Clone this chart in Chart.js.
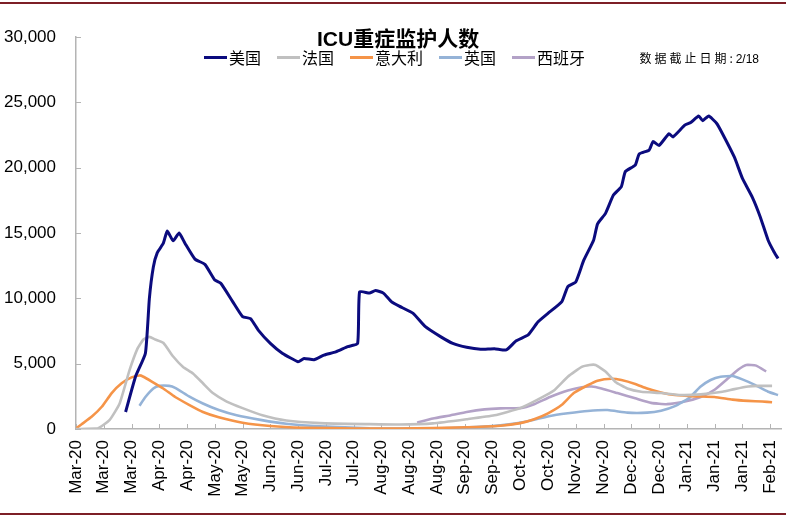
<!DOCTYPE html>
<html lang="zh-CN">
<head>
<meta charset="utf-8">
<title>ICU重症监护人数</title>
<script src="https://cdn.jsdelivr.net/npm/chart.js@4.4.1/dist/chart.umd.min.js"></script>
<style>
  html, body { margin: 0; padding: 0; background: #fff; }
  #wrap { position: relative; width: 786px; height: 517px; overflow: hidden; }
  #wrap canvas { position: absolute; left: 0; top: 0; }
  .rule { position: absolute; left: 0; width: 786px; height: 2px; background: #7d1f26; }
  #chart-title {
    position: absolute; left: 317px; top: 22px; line-height: 21px; white-space: nowrap;
    font: bold 21px "Liberation Sans", "Noto Sans CJK SC", sans-serif; color: #000;
  }
  #legend {
    position: absolute; left: 204px; top: 49px; display: flex; align-items: center;
    font: 16px/16px "Noto Sans CJK SC", sans-serif; color: #000; white-space: nowrap;
  }
  #legend .item { display: flex; align-items: center; margin-right: 16px; }
  #legend .swatch { display: inline-block; width: 23px; height: 3px; margin-right: 2px; }
  #note {
    position: absolute; right: 27px; top: 49px; line-height: 16px; white-space: nowrap;
    font: 12px "Noto Sans CJK SC", sans-serif; color: #000;
  }
  #note .cjk { letter-spacing: 3px; }
  #note .num { font-family: "Liberation Sans", sans-serif; }
</style>
</head>
<body>
<div id="wrap">
  <div class="rule" style="top:2px"></div>
  <canvas id="icuChart"></canvas>
  <div id="chart-title">ICU重症监护人数</div>
  <div id="legend"></div>
  <div id="note"><span class="cjk">数据截止日期</span>: <span class="num">2/18</span></div>
  <div class="rule" style="top:513px"></div>
</div>
<script>
// --- DATA ---
// x = days since 2020-03-01, labelled every 14 days
const tickStepDays = 14;
const xTickLabels = ['Mar-20', 'Mar-20', 'Mar-20', 'Apr-20', 'Apr-20', 'May-20', 'May-20', 'Jun-20', 'Jun-20',
    'Jul-20', 'Jul-20', 'Aug-20', 'Aug-20', 'Aug-20', 'Sep-20', 'Sep-20', 'Oct-20', 'Oct-20', 'Nov-20', 'Nov-20',
    'Dec-20', 'Dec-20', 'Jan-21', 'Jan-21', 'Jan-21', 'Feb-21'];
const yTickValues = [0, 5000, 10000, 15000, 20000, 25000, 30000];

const seriesNames = ['美国', '法国', '意大利', '英国', '西班牙'];
const seriesColors = ['#0b0b7e', '#c0c0c0', '#f59448', '#95b3d7', '#b3a2c7'];

const usDays = [25, 30, 35, 37, 39, 41, 44, 46, 49, 52, 55, 60, 65, 70, 73, 79, 84, 88, 92, 98, 104, 112, 115, 120,
    125, 131, 137, 142, 143, 148, 151, 155, 159, 163, 170, 176, 184, 190, 197, 204, 211, 217, 222, 228, 233, 238,
    245, 248, 252, 256, 261, 263, 267, 271, 275, 277, 282, 284, 289, 291, 294, 299, 301, 307, 310, 314, 316, 319,
    323, 326, 332, 336, 341, 345, 349, 352, 354];
const usValues = [1300, 4000, 5800, 10000, 12400, 13500, 14200, 15150, 14400, 15000, 14200, 13000, 12600, 11400,
    11150, 9750, 8600, 8450, 7550, 6550, 5800, 5150, 5400, 5300, 5650, 5900, 6300, 6550, 10500, 10400, 10600, 10400,
    9750, 9400, 8850, 7850, 7050, 6550, 6250, 6100, 6150, 6050, 6750, 7200, 8200, 8850, 9750, 10900, 11250, 12900,
    14450, 15700, 16500, 17900, 18550, 19700, 20200, 21050, 21350, 22000, 21700, 22600, 22350, 23250, 23450, 23950,
    23600, 23950, 23400, 22600, 20800, 19200, 17750, 16250, 14450, 13550, 13050];

const frDays = [0, 11, 17, 22, 27, 31, 34, 37, 40, 44, 49, 54, 59, 64, 69, 76, 84, 94, 106, 123, 148, 163, 180, 197,
    211, 224, 234, 241, 248, 255, 259, 262, 267, 272, 278, 285, 295, 305, 315, 326, 332, 339, 344, 351];
const frValues = [0, 50, 700, 1950, 4500, 6150, 6850, 7050, 6850, 6600, 5550, 4750, 4250, 3500, 2750, 2100, 1600,
    1050, 650, 450, 370, 340, 430, 750, 1050, 1600, 2350, 2950, 4000, 4750, 4900, 4900, 4400, 3600, 3100, 2850, 2750,
    2600, 2650, 2850, 3050, 3250, 3300, 3300];

const itDays = [0, 3, 8, 13, 18, 23, 28, 32, 34, 38, 44, 50, 57, 64, 72, 84, 98, 114, 140, 163, 197, 214, 224, 231,
    238, 245, 251, 258, 263, 270, 275, 282, 288, 295, 302, 312, 322, 331, 339, 346, 351];
const itValues = [50, 380, 950, 1700, 2750, 3500, 3950, 4100, 4000, 3650, 3100, 2450, 1850, 1300, 900, 480, 230, 100,
    40, 30, 130, 250, 450, 750, 1200, 1850, 2750, 3350, 3700, 3850, 3750, 3450, 3100, 2800, 2600, 2500, 2450, 2250,
    2150, 2100, 2050];

const ukDays = [32, 35, 39, 42, 47, 50, 57, 64, 72, 81, 93, 106, 123, 148, 180, 206, 223, 231, 239, 248, 258, 268,
    278, 288, 295, 302, 309, 315, 320, 325, 331, 336, 342, 349, 354];
const ukValues = [1780, 2450, 3100, 3300, 3300, 3150, 2500, 1950, 1450, 1050, 700, 400, 200, 60, 30, 180, 450, 700,
    1000, 1200, 1380, 1450, 1250, 1250, 1400, 1750, 2350, 3250, 3750, 4000, 4050, 3800, 3400, 2850, 2600];

const esDays = [172, 180, 189, 197, 206, 214, 224, 231, 239, 248, 255, 260, 265, 273, 282, 290, 298, 307, 315, 322,
    329, 334, 338, 343, 348];
const esValues = [480, 800, 1050, 1300, 1500, 1580, 1600, 1900, 2450, 2950, 3200, 3250, 3100, 2750, 2350, 2000, 1900,
    2100, 2450, 3000, 3900, 4550, 4900, 4850, 4400];

const seriesDays = [usDays, frDays, itDays, ukDays, esDays];
const seriesValues = [usValues, frValues, itValues, ukValues, esValues];

// --- LEGEND (HTML) ---
const legendEl = document.getElementById('legend');
seriesNames.forEach((name, i) => {
    const item = document.createElement('span');
    item.className = 'item';
    item.innerHTML = `<span class="swatch" style="background:${seriesColors[i]}"></span><span>${name}</span>`;
    legendEl.appendChild(item);
});

// --- CHART ---
const axisColor = '#b4b4b4';

// short tick marks pointing into the plot, like the original
const innerTicks = {
    id: 'innerTicks',
    beforeDatasetsDraw(chart) {
        const { ctx, chartArea, scales } = chart;
        ctx.save();
        ctx.strokeStyle = axisColor;
        ctx.lineWidth = 1;
        ctx.beginPath();
        scales.x.ticks.forEach(t => {
            const px = Math.round(scales.x.getPixelForValue(t.value)) + 0.5;
            ctx.moveTo(px, chartArea.bottom);
            ctx.lineTo(px, chartArea.bottom - 5);
        });
        scales.y.ticks.forEach(t => {
            const py = Math.round(scales.y.getPixelForValue(t.value)) + 0.5;
            ctx.moveTo(chartArea.left, py);
            ctx.lineTo(chartArea.left + 5, py);
        });
        ctx.stroke();
        ctx.restore();
    }
};

Chart.defaults.font.family = '"Liberation Sans", Arial, sans-serif';

new Chart(document.getElementById('icuChart'), {
    type: 'line',
    data: {
        datasets: seriesNames.map((name, i) => ({
            label: name,
            data: seriesDays[i].map((d, j) => ({ x: d, y: seriesValues[i][j] })),
            borderColor: seriesColors[i],
            backgroundColor: seriesColors[i],
            borderWidth: i === 0 ? 3 : 2.6,
            pointRadius: 0,
            tension: 0.15,
            fill: false
        }))
    },
    options: {
        responsive: true,
        maintainAspectRatio: false,
        animation: false,
        layout: { padding: { top: 37, right: 5, bottom: 0, left: 0 } },
        plugins: { legend: { display: false }, tooltip: { enabled: false } },
        scales: {
            x: {
                type: 'linear',
                min: 0,
                max: 355.5,
                afterFit: s => { s.height = 88; s.paddingLeft = 0; s.paddingRight = 0; },
                afterBuildTicks: s => { s.ticks = xTickLabels.map((_, i) => ({ value: i * tickStepDays })); },
                grid: { display: false, drawTicks: false },
                border: { color: axisColor, width: 1.5 },
                ticks: {
                    autoSkip: false,
                    minRotation: 90,
                    maxRotation: 90,
                    padding: 11,
                    color: '#000',
                    font: { size: 17 },
                    callback: v => xTickLabels[Math.round(v / tickStepDays)] ?? ''
                }
            },
            y: {
                min: 0,
                max: 30000,
                afterFit: s => { s.width = 76; s.paddingTop = 0; s.paddingBottom = 0; },
                afterBuildTicks: s => { s.ticks = yTickValues.map(v => ({ value: v })); },
                grid: { display: false, drawTicks: false },
                border: { color: axisColor, width: 1.5 },
                ticks: {
                    padding: 20,
                    color: '#000',
                    font: { size: 17 },
                    callback: v => v.toLocaleString('en-US')
                }
            }
        }
    },
    plugins: [innerTicks]
});
</script>
</body>
</html>
